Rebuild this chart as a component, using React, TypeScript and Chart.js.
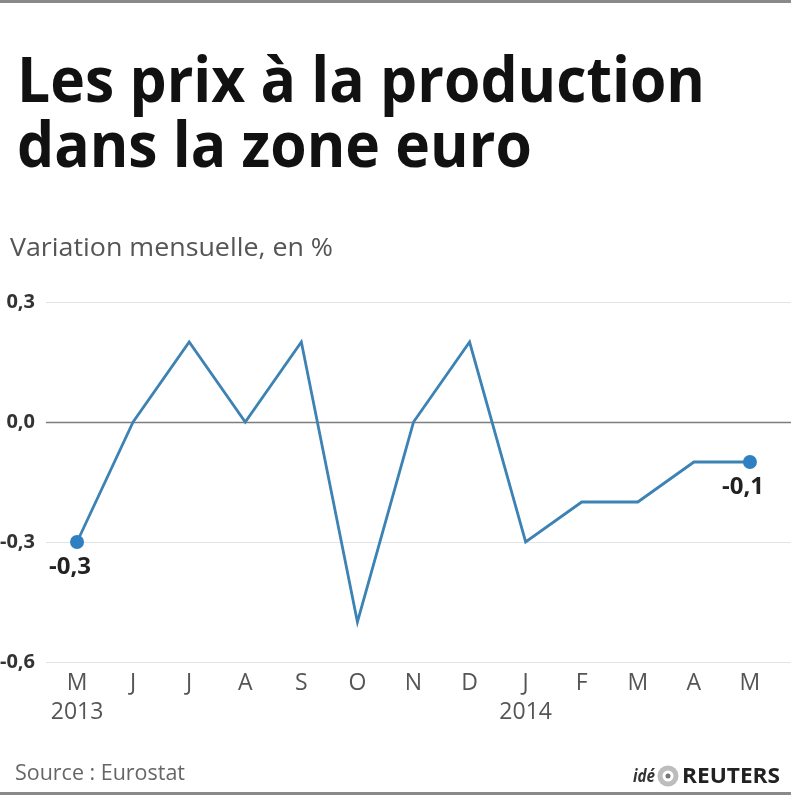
import React, { useEffect, useRef } from "react";
import { Chart, registerables } from "chart.js";

Chart.register(...registerables);

const months = ["M", "J", "J", "A", "S", "O", "N", "D", "J", "F", "M", "A", "M"];
const yearLabels: Record<number, string> = { 0: "2013", 8: "2014" };
const values = [-0.3, 0.0, 0.2, 0.0, 0.2, -0.5, 0.0, 0.2, -0.3, -0.2, -0.2, -0.1, -0.1];
const yTicks = [-0.6, -0.3, 0.0, 0.3];
const labeledPoints = [0, 12];

const titleLines = ["Les prix à la production", "dans la zone euro"];
const subtitle = "Variation mensuelle, en %";
const sourceText = "Source : Eurostat";

const fmt = (v: number) => {
  const r = Math.round(v * 10) / 10;
  return Math.abs(r) < 1e-9 ? "0,0" : r.toFixed(1).replace(".", ",");
};

// draw text stretched/condensed horizontally to a given width
const fitText = (ctx: any, text: string, x: number, y: number, w: number) => {
  const m = ctx.measureText(text).width;
  ctx.save();
  ctx.translate(x, y);
  ctx.scale(w / m, 1);
  ctx.fillText(text, 0, 0);
  ctx.restore();
};

const gridPlugin = {
  id: "customGrid",
  beforeDatasetsDraw(chart: any) {
    const { ctx, chartArea, scales } = chart;
    const y = scales.y;
    ctx.save();
    yTicks.forEach((v) => {
      const py = Math.round(y.getPixelForValue(v)) + 0.5;
      ctx.beginPath();
      ctx.strokeStyle = v === 0 ? "#7d7d7d" : "#e3e3e3";
      ctx.lineWidth = v === 0 ? 1.5 : 1;
      ctx.moveTo(chartArea.left - 3, py);
      ctx.lineTo(chart.width, py);
      ctx.stroke();
    });
    ctx.restore();
  },
};

const pointLabelPlugin = {
  id: "pointLabels",
  afterDatasetsDraw(chart: any) {
    const { ctx } = chart;
    const meta = chart.getDatasetMeta(0);
    ctx.save();
    ctx.font = 'bold 24px "Open Sans"';
    ctx.fillStyle = "#222";
    ctx.textAlign = "center";
    ctx.textBaseline = "middle";
    labeledPoints.forEach((i) => {
      const el = meta.data[i];
      ctx.fillText(fmt(values[i]), el.x - 7, el.y + 25);
    });
    ctx.restore();
  },
};

const decorPlugin = {
  id: "decor",
  afterDraw(chart: any) {
    const { ctx, width } = chart;
    ctx.save();
    ctx.fillStyle = "#8a8a8a";
    ctx.fillRect(0, 0, width, 3);
    ctx.fillRect(0, 792, width, 3);

    // title
    ctx.fillStyle = "#111";
    ctx.textAlign = "left";
    ctx.textBaseline = "alphabetic";
    ctx.font = 'bold 62px "Open Sans"';
    const w1 = ctx.measureText(titleLines[0]).width;
    const ratio = 688 / w1;
    ctx.save();
    ctx.translate(17, 0);
    ctx.scale(ratio, 1);
    ctx.fillText(titleLines[0], 0, 102);
    ctx.fillText(titleLines[1], 0, 167);
    ctx.restore();

    // subtitle
    ctx.fillStyle = "#555";
    ctx.font = '25px "Open Sans"';
    fitText(ctx, subtitle, 10, 256, 323);

    // source
    ctx.fillStyle = "#666";
    ctx.font = '22px "Open Sans"';
    fitText(ctx, sourceText, 15, 780, 170);

    // logo
    ctx.fillStyle = "#333";
    ctx.font = 'italic bold 18px "Open Sans"';
    fitText(ctx, "idé", 633, 782, 22);
    ctx.beginPath();
    ctx.arc(668, 776, 10.5, 0, Math.PI * 2);
    ctx.fillStyle = "#bdbdbd";
    ctx.fill();
    ctx.beginPath();
    ctx.arc(668, 776, 5.5, 0, Math.PI * 2);
    ctx.fillStyle = "#fff";
    ctx.fill();
    ctx.beginPath();
    ctx.arc(668, 776, 2.5, 0, Math.PI * 2);
    ctx.fillStyle = "#777";
    ctx.fill();
    ctx.fillStyle = "#222";
    ctx.font = 'bold 21px "Open Sans"';
    fitText(ctx, "REUTERS", 682, 783, 98);
    ctx.restore();
  },
};

export default function App() {
  const ref = useRef<HTMLCanvasElement | null>(null);

  useEffect(() => {
    if (!ref.current) return;
    const labels = months.map((m, i) => (yearLabels[i] ? [m, yearLabels[i]] : [m]));
    const chart = new Chart(ref.current, {
      type: "line",
      data: {
        labels,
        datasets: [
          {
            data: values,
            borderColor: "#3c82b4",
            borderWidth: 2.8,
            tension: 0,
            pointRadius: (c: any) => (labeledPoints.includes(c.dataIndex) ? 7 : 0),
            pointHoverRadius: 0,
            pointBackgroundColor: "#2f7fc1",
            pointBorderWidth: 0,
            fill: false,
          },
        ],
      },
      options: {
        responsive: false,
        animation: false,
        layout: { padding: { top: 302, right: 13, left: 0, bottom: 0 } },
        plugins: {
          legend: { display: false },
          tooltip: { enabled: false },
          title: { display: false },
        },
        scales: {
          x: {
            type: "category",
            offset: true,
            grid: { display: false, drawTicks: false },
            border: { display: false },
            ticks: {
              autoSkip: false,
              maxRotation: 0,
              minRotation: 0,
              padding: 6.5,
              color: "#555",
              font: { family: "Open Sans", size: 23, lineHeight: 1.26 },
            },
            afterFit: (s: any) => {
              s.height = 138;
            },
          },
          y: {
            min: -0.6,
            max: 0.3,
            grid: { display: false, drawTicks: false },
            border: { display: false },
            ticks: {
              stepSize: 0.3,
              padding: 14,
              color: "#333",
              font: { family: "Open Sans", size: 20, weight: "bold" },
              callback: (v: any) => fmt(Number(v)),
            },
            afterFit: (s: any) => {
              s.width = 49;
            },
          },
        },
      },
      plugins: [gridPlugin, pointLabelPlugin, decorPlugin],
    });
    return () => chart.destroy();
  }, []);

  return (
    <div style={{ position: "absolute", left: 0, top: 0, width: 791, height: 800, background: "#fff" }}>
      <canvas ref={ref} width={791} height={800} style={{ display: "block" }} />
    </div>
  );
}
